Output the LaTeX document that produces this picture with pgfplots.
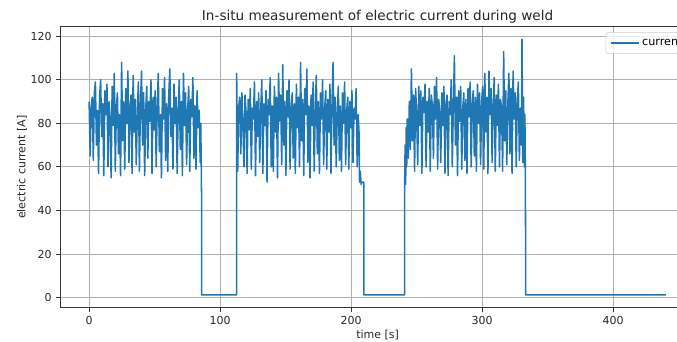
\documentclass[border=0pt]{standalone}
\usepackage{fontspec}
\setmainfont{DejaVu Sans}
\usepackage{pgfplots}
\pgfplotsset{compat=1.18}
\definecolor{mplblue}{HTML}{1F77B4}
\definecolor{mplgrid}{HTML}{B0B0B0}
\definecolor{legedge}{HTML}{CCCCCC}
\begin{document}
\begin{tikzpicture}
\useasboundingbox (0,0) rectangle (507.75pt,256.5pt);
\clip (0,0) rectangle (507.75pt,256.5pt);
\begin{axis}[
  at={(45.2pt,25.7pt)}, anchor=south west,
  scale only axis, width=476pt, height=210.75pt,
  xmin=-22.02, xmax=462.4, ymin=-4.67, ymax=124.37,
  xtick={0,100,200,300,400}, ytick={0,20,40,60,80,100,120},
  grid=major, major grid style={mplgrid, line width=0.66pt},
  axis line style={black!80, line width=0.66pt},
  tick style={black!80, line width=0.66pt},
  tick align=outside, major tick length=2.9pt, tick pos=left,
  /pgf/number format/assume math mode=true,
  tick label style={font=\fontsize{8.25}{10}\selectfont, text=black!85},
  title={In-situ measurement of electric current during weld},
  title style={at={(axis description cs:0.5,1)}, anchor=base, yshift=-1.2pt, inner sep=0pt, font=\fontsize{10.2}{12}\selectfont, text=black!85},
  xlabel={time [s]}, ylabel={electric current [A]},
  xlabel style={at={(axis description cs:0.5,-0.111)}, anchor=base, inner sep=0pt, font=\fontsize{8.25}{10}\selectfont, text=black!85},
  ylabel style={at={(axis description cs:-0.0605,0.5)}, anchor=center, inner sep=0pt, font=\fontsize{8.25}{10}\selectfont, text=black!85},
  legend style={at={(axis description cs:1,1)}, anchor=north east, xshift=-4.1pt, yshift=-4.1pt,
    draw=legedge, rounded corners=2pt, fill=white, fill opacity=0.8, text opacity=1,
    font=\fontsize{8.4}{10}\selectfont, inner xsep=3pt, inner ysep=2.2pt},
  legend cell align=left,
  legend image code/.code={\draw[mplblue, line width=1.4pt] (0pt,0pt) -- (18pt,0pt); \path (0pt,0pt) -- (21pt,0pt);},
]
\addplot[mplblue, line width=1.15pt, line join=round] coordinates {
(0.0,90) (0.8,65) (1.6,88) (2.4,92) (3.2,63) (4.0,94) (4.8,99) (5.6,70) (6.4,86) (7.2,57)
(8.0,92) (8.8,100) (9.6,74) (10.4,89) (11.2,56) (12.0,95) (12.8,84) (13.6,98) (14.4,60) (15.2,90)
(16.0,83) (16.8,55) (17.6,97) (18.4,79) (19.2,103) (20.0,58) (20.8,88) (21.6,94) (22.4,66) (23.2,84)
(24.0,56) (24.8,108) (25.6,72) (26.4,90) (27.2,59) (28.0,96) (28.8,80) (29.6,104) (30.4,62) (31.2,87)
(32.0,93) (32.8,57) (33.6,102) (34.4,76) (35.2,91) (36.0,61) (36.8,85) (37.6,99) (38.4,58) (39.2,89)
(40.0,104) (40.8,70) (41.6,94) (42.4,56) (43.2,86) (44.0,97) (44.8,64) (45.6,90) (46.4,81) (47.2,100)
(48.0,57) (48.8,92) (49.6,77) (50.4,95) (51.2,60) (52.0,88) (52.8,103) (53.6,67) (54.4,84) (55.2,55)
(56.0,96) (56.8,82) (57.6,101) (58.4,63) (59.2,89) (60.0,58) (60.8,93) (61.6,105) (62.4,74) (63.2,87)
(64.0,59) (64.8,98) (65.6,80) (66.4,92) (67.2,57) (68.0,86) (68.8,100) (69.6,68) (70.4,90) (71.2,56)
(72.0,103) (72.8,79) (73.6,94) (74.4,61) (75.2,85) (76.0,97) (76.8,58) (77.6,91) (78.4,83) (79.2,101)
(80.0,64) (80.8,88) (81.6,59) (82.4,95) (83.2,78) (84.0,86) (84.8,62) (85.2,80) (85.6,60) (85.8,48)
(85.8,1.2) (112.6,1.2)
(112.6,103) (113.4,58) (114.2,88) (115.0,92) (115.8,66) (116.6,94) (117.4,80) (118.2,60) (119.0,93) (119.8,85)
(120.6,57) (121.4,91) (122.2,77) (123.0,96) (123.8,59) (124.6,87) (125.4,82) (126.2,99) (127.0,56) (127.8,90)
(128.6,74) (129.4,94) (130.2,62) (131.0,86) (131.8,100) (132.6,57) (133.4,89) (134.2,79) (135.0,95) (135.8,53)
(136.6,91) (137.4,84) (138.2,101) (139.0,60) (139.8,88) (140.6,58) (141.4,97) (142.2,76) (143.0,92) (143.8,55)
(144.6,103) (145.4,81) (146.2,93) (147.0,61) (147.8,107) (148.6,70) (149.4,90) (150.2,56) (151.0,95) (151.8,83)
(152.6,100) (153.4,59) (154.2,87) (155.0,94) (155.8,64) (156.6,89) (157.4,57) (158.2,98) (159.0,78) (159.8,92)
(160.6,60) (161.4,108) (162.2,72) (163.0,91) (163.8,56) (164.6,96) (165.4,84) (166.2,105) (167.0,62) (167.8,88)
(168.6,55) (169.4,93) (170.2,79) (171.0,99) (171.8,58) (172.6,86) (173.4,102) (174.2,66) (175.0,90) (175.8,57)
(176.6,94) (177.4,82) (178.2,100) (179.0,61) (179.8,87) (180.6,95) (181.4,59) (182.2,91) (183.0,76) (183.8,98)
(184.6,57) (185.4,89) (186.2,108) (187.0,70) (187.8,92) (188.6,60) (189.4,85) (190.2,97) (191.0,63) (191.8,88)
(192.6,58) (193.4,94) (194.2,80) (195.0,99) (195.8,61) (196.6,86) (197.4,92) (198.2,59) (199.0,90) (199.8,78)
(200.6,95) (201.4,62) (202.2,87) (203.0,82) (203.8,96) (204.6,60) (205.4,84) (206.0,76) (206.4,53) (207.0,58)
(207.6,52) (208.2,53) (209.7,53) (209.7,1.2) (240.8,1.2)
(240.8,50) (241.2,70) (241.6,52) (242.0,78) (242.4,60) (242.8,82) (243.6,64) (244.4,90) (245.2,68) (246.0,105)
(246.8,72) (247.6,93) (248.4,58) (249.2,96) (250.0,84) (250.8,61) (251.6,97) (252.4,79) (253.2,95) (254.0,57)
(254.8,92) (255.6,85) (256.4,98) (257.2,60) (258.0,90) (258.8,76) (259.6,96) (260.4,58) (261.2,93) (262.0,88)
(262.8,64) (263.6,97) (264.4,82) (265.2,101) (266.0,59) (266.8,91) (267.6,86) (268.4,62) (269.2,94) (270.0,79)
(270.8,97) (271.6,57) (272.4,89) (273.2,93) (274.0,56) (274.8,90) (275.6,84) (276.4,100) (277.2,60) (278.0,88)
(278.8,111) (279.6,70) (280.4,92) (281.2,56) (282.0,95) (282.8,81) (283.6,97) (284.4,59) (285.2,87) (286.0,94)
(286.8,63) (287.6,91) (288.4,57) (289.2,96) (290.0,83) (290.8,99) (291.6,60) (292.4,89) (293.2,95) (294.0,65)
(294.8,92) (295.6,58) (296.4,98) (297.2,80) (298.0,94) (298.8,61) (299.6,90) (300.4,97) (301.2,59) (302.0,103)
(302.8,76) (303.6,92) (304.4,57) (305.2,104) (306.0,84) (306.8,96) (307.6,62) (308.4,88) (309.2,101) (310.0,58)
(310.8,93) (311.6,79) (312.4,98) (313.2,60) (314.0,91) (314.8,87) (315.6,58) (316.4,113) (317.2,72) (318.0,95)
(318.8,61) (319.6,89) (320.4,103) (321.2,66) (322.0,96) (322.8,57) (323.6,104) (324.4,82) (325.2,94) (326.0,60)
(326.8,90) (327.6,99) (328.4,63) (329.2,87) (330.0,70) (330.4,118.5) (331.0,62) (331.6,92) (332.2,60) (332.6,84)
(333.0,55) (333.2,1.2) (440.4,1.2)
};
\addlegendentry{current}
\end{axis}
\end{tikzpicture}
\end{document}
